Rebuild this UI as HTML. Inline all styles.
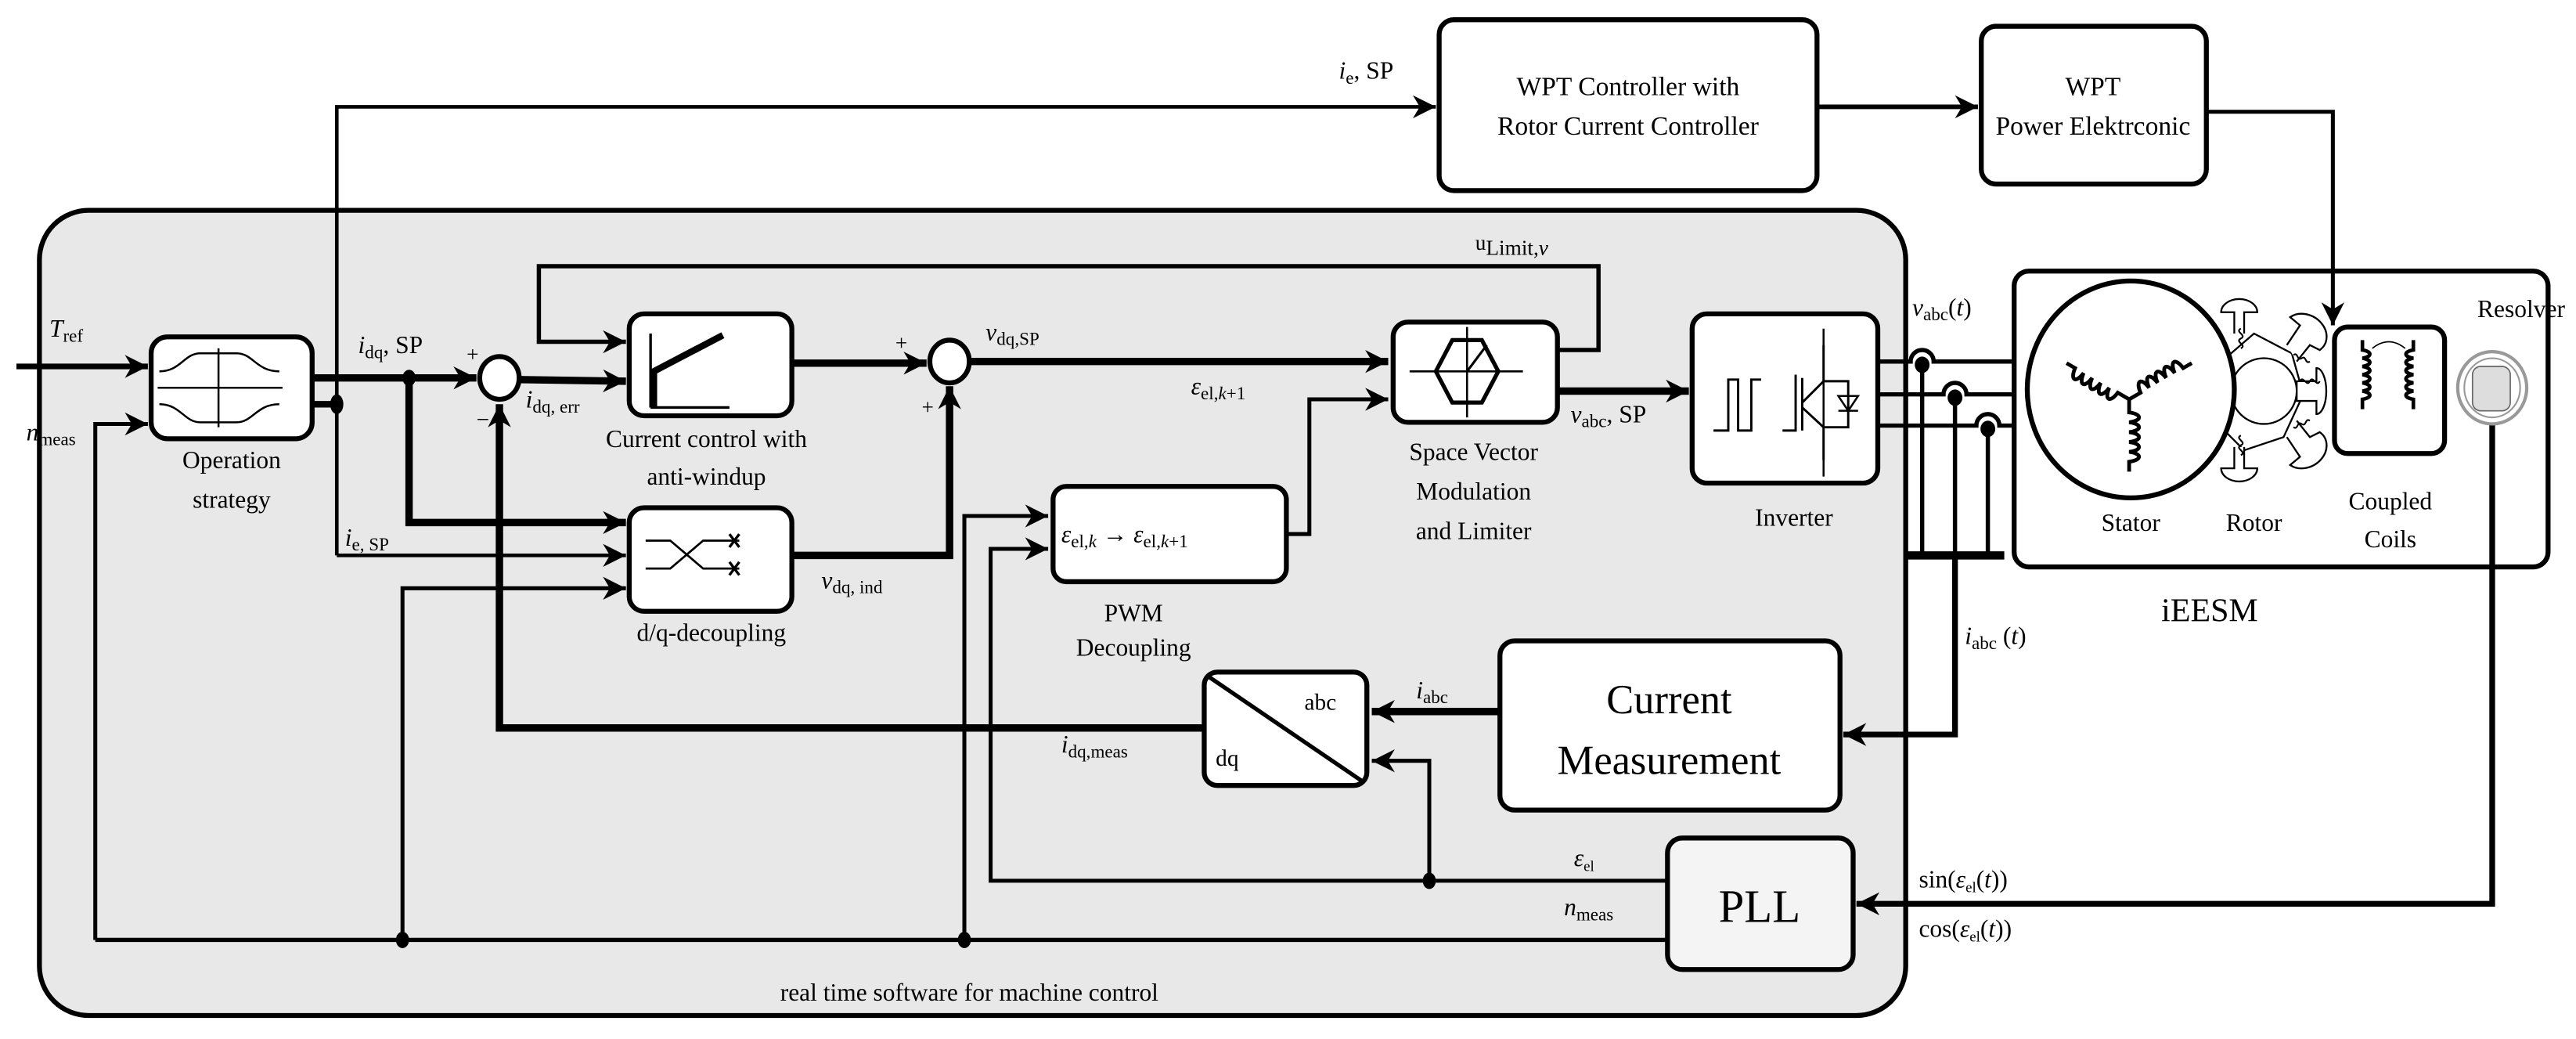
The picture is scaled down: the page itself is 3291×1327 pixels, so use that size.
<!DOCTYPE html>
<html><head><meta charset="utf-8"><style>
html,body{margin:0;padding:0;background:#fff;}
svg{display:block;}
text{font-family:"Liberation Serif","DejaVu Serif","Noto Serif CJK SC",serif;fill:#000;}
</style></head><body>
<svg width="3291" height="1327" viewBox="0 0 1568 632.3" preserveAspectRatio="none" xmlns="http://www.w3.org/2000/svg" font-family="Liberation Serif, DejaVu Serif, serif">
<defs>
<marker id="a" viewBox="0 0 10 10" refX="10" refY="5" markerWidth="16" markerHeight="14" markerUnits="userSpaceOnUse" orient="auto"><path d="M0,0 L10,5 L0,10 L3,5 Z" fill="#000"/></marker>
<path id="coil" d="M0,0 v8 c8,1 8,5 0,6 c8,1 8,5 0,6 c8,1 8,5 0,6 c8,1 8,5 0,6 c8,1 8,5 0,6 v6" fill="none" stroke="#000" stroke-width="2.3"/>
<path id="coil2" d="M0,0 v6 c6,1 6,4 0,5 c6,1 6,4 0,5 c6,1 6,4 0,5 c6,1 6,4 0,5 c6,1 6,4 0,5 c6,1 6,4 0,5 v6" fill="none" stroke="#000" stroke-width="2.2"/>
</defs>
<rect x="0" y="0" width="1568" height="633" fill="#fff"/>
<!-- big gray box -->
<rect x="24" y="128" width="1136" height="490" rx="30" fill="#e8e8e8" stroke="#000" stroke-width="3"/>

<g fill="none" stroke="#000" stroke-linejoin="miter">
<polyline points="205,338 205,65 874,65" stroke-width="2.2" marker-end="url(#a)"/>
<line x1="205" y1="338" x2="381" y2="338" stroke-width="2.2" marker-end="url(#a)"/>
<line x1="1106" y1="65" x2="1204" y2="65" stroke-width="2.8" marker-end="url(#a)"/>
<line x1="10" y1="223" x2="90" y2="223" stroke-width="3.5" marker-end="url(#a)"/>
<polyline points="58,572 58,258 90,258" stroke-width="2.4" marker-end="url(#a)"/>
<line x1="190" y1="230" x2="290" y2="230" stroke-width="4.5" marker-end="url(#a)"/>
<line x1="190" y1="246" x2="205" y2="246" stroke-width="4"/>
<polyline points="249,230 249,318 381,318" stroke-width="4.5" marker-end="url(#a)"/>
<line x1="316" y1="231" x2="381" y2="232" stroke-width="4.5" marker-end="url(#a)"/>
<polyline points="947,213 973,213 973,162 328,162 328,208 381,208" stroke-width="2.6" marker-end="url(#a)"/>
<line x1="482" y1="221" x2="564" y2="221" stroke-width="4.5" marker-end="url(#a)"/>
<line x1="591" y1="220" x2="845" y2="220" stroke-width="4.5" marker-end="url(#a)"/>
<polyline points="482,338 578,338 578,235" stroke-width="4.5" marker-end="url(#a)"/>
<polyline points="245,572 245,358 381,358" stroke-width="2.4" marker-end="url(#a)"/>
<line x1="58" y1="572" x2="1015" y2="572" stroke-width="2.6"/>
<polyline points="587,572 587,314 638,314" stroke-width="2.4" marker-end="url(#a)"/>
<polyline points="1015,536 603,536 603,334 638,334" stroke-width="2.4" marker-end="url(#a)"/>
<polyline points="870,536 870,463 835,463" stroke-width="2.4" marker-end="url(#a)"/>
<polyline points="783,325 797,325 797,243 845,243" stroke-width="2.4" marker-end="url(#a)"/>
<line x1="948" y1="238" x2="1028" y2="238" stroke-width="4.5" marker-end="url(#a)"/>
<polyline points="733,443 304,443 304,246" stroke-width="4.5" marker-end="url(#a)"/>
<line x1="913" y1="433" x2="835" y2="433" stroke-width="4.5" marker-end="url(#a)"/>
<path d="M1143,220 H1163 A7,7 0 0 1 1177,220 H1234" stroke-width="2.6"/>
<path d="M1143,240 H1183 A7,7 0 0 1 1197,240 H1234" stroke-width="2.6"/>
<path d="M1143,259 H1203 A7,7 0 0 1 1217,259 H1236" stroke-width="2.6"/>
<line x1="1170" y1="222" x2="1170" y2="338" stroke-width="2.6"/>
<line x1="1190" y1="242" x2="1190" y2="338" stroke-width="2.6"/>
<line x1="1210" y1="261" x2="1210" y2="338" stroke-width="2.6"/>
<line x1="1160" y1="338" x2="1220" y2="338" stroke-width="5"/>
<polyline points="1190,338 1190,447 1122,447" stroke-width="3.5" marker-end="url(#a)"/>
</g>
<g fill="#000">
<ellipse cx="249" cy="230" rx="4" ry="5"/>
<ellipse cx="205" cy="246" rx="4" ry="6"/>
<ellipse cx="245" cy="572" rx="4" ry="5"/>
<ellipse cx="587" cy="572" rx="4" ry="5"/>
<ellipse cx="870" cy="536" rx="4" ry="5"/>
<ellipse cx="1170" cy="222" rx="4.5" ry="5"/>
<ellipse cx="1190" cy="242" rx="4.5" ry="5"/>
<ellipse cx="1210" cy="261" rx="4.5" ry="5"/>
</g>

<g stroke="#000" stroke-width="3" fill="#fff">
<rect x="876" y="12" width="230" height="104" rx="9"/>
<rect x="1206" y="16" width="137" height="96" rx="9"/>
<rect x="92" y="205" width="98" height="62" rx="10"/>
<rect x="383" y="191" width="99" height="62" rx="9"/>
<rect x="383" y="309" width="99" height="63" rx="9"/>
<rect x="641" y="296" width="142" height="58" rx="8"/>
<rect x="848" y="196" width="100" height="61" rx="9"/>
<rect x="1030" y="191" width="113" height="103" rx="9"/>
<rect x="913" y="390" width="207" height="103" rx="9"/>
<rect x="733" y="409" width="99" height="69" rx="8"/>
<rect x="1015" y="510" width="113" height="80" rx="9" fill="#f4f4f4"/>
<rect x="1226" y="165" width="325" height="180" rx="9"/>
</g>
<!-- resolver line & WPT arrow over iEESM box -->
<g fill="none" stroke="#000">
<polyline points="1517,258 1517,550 1130,550" stroke-width="3.5" marker-end="url(#a)"/>
<polyline points="1343,68 1420,68 1420,198" stroke-width="2.4" marker-end="url(#a)"/>
</g>
<g stroke="#000" stroke-width="3" fill="#fff">
<rect x="1421" y="199" width="67" height="77" rx="8"/>
<ellipse cx="304" cy="230" rx="12" ry="13"/>
<ellipse cx="578" cy="220" rx="12" ry="13"/>
</g>
<!-- rotor (behind stator) -->
<g fill="#fff" stroke="#000" stroke-width="1.1">
<path d="M1350,222 L1372,203 L1395,215 L1402,240 L1390,266 L1366,274 L1350,258 Z"/>
<circle cx="1378" cy="238" r="20"/>
<path d="M1360,203 V190 h-8 a11,8 0 0 1 22,0 h-8 V203"/>
<path d="M1360,272 V285 h-8 a11,8 0 0 0 22,0 h-8 V272"/>
<path d="M1392,210 l8,-12 l-6,-5 a12,10 30 0 1 18,20 l-6,-3 l-8,10"/>
<path d="M1392,266 l8,12 l-6,5 a12,10 -30 0 0 18,-20 l-6,3 l-8,-10"/>
<path d="M1398,232 h12 v-8 a6,14 0 0 1 0,28 v-8 h-12 Z"/>
</g>
<g fill="none" stroke="#000" stroke-width="1">
<path d="M1364,200 c-4,2 4,4 0,6 c-4,2 4,4 0,6 M1364,265 c-4,2 4,4 0,6 c-4,2 4,4 0,6 M1400,232 c2,-4 4,4 6,0 c2,-4 4,4 6,0 M1396,216 c3,-2 2,4 5,2 c3,-2 2,4 5,2 M1396,260 c3,2 2,-4 5,-2 c3,2 2,-4 5,-2"/>
</g>
<ellipse cx="1297" cy="237" rx="63" ry="66" fill="#fff" stroke="#000" stroke-width="3"/>
<!-- stator coils -->
<use href="#coil" transform="translate(1296,243)"/>
<use href="#coil" transform="translate(1296,243) rotate(120)"/>
<use href="#coil" transform="translate(1296,243) rotate(-120)"/>
<!-- coupled coils -->
<use href="#coil2" transform="translate(1438,207)"/>
<use href="#coil2" transform="translate(1469,207) scale(-1,1)"/>
<path d="M1444,212 q10,-8 20,0" fill="none" stroke="#000" stroke-width="0.8"/>
<g fill="none" stroke="#000" stroke-width="1.2">
<line x1="96" y1="236" x2="172" y2="236"/>
<line x1="133" y1="212" x2="133" y2="260"/>
<path d="M97,226 C110,226 112,215 122,215 H144 C154,215 156,226 170,226"/>
<path d="M97,246 C110,246 112,257 122,257 H144 C154,257 156,246 170,246"/>
<line x1="396" y1="248" x2="444" y2="248" stroke-width="1.6"/>
<line x1="396" y1="248" x2="396" y2="203" stroke-width="1.6"/>
<path d="M398,248 V226 L440,204" stroke-width="4"/>
<path d="M393,329 H408 L428,346 H450 M393,346 H408 L428,329 H450" stroke-width="1.3"/>
<path d="M444,325 l6,8 M450,325 l-6,8 M444,342 l6,8 M450,342 l-6,8" stroke-width="1.6"/>
<polygon points="884,207 902,207 912,226 902,245 884,245 874,226" stroke-width="2.5"/>
<line x1="858" y1="226" x2="927" y2="226"/>
<line x1="893" y1="199" x2="893" y2="254"/>
<line x1="893" y1="226" x2="905" y2="210" stroke-width="1.5"/>
<path d="M1043,262 H1052 V231 H1058 V262 H1066 V231 H1072" stroke-width="1.4"/>
<path d="M1085,262 H1093 V228 M1097,230 V262 M1097,245 L1110,232 V210 M1097,248 L1110,260 V280 M1110,232 H1125 V260 H1110" stroke-width="1.4"/>
<polygon points="1119,241 1131,241 1125,250" stroke-width="1.2"/>
<line x1="1119" y1="250" x2="1131" y2="250"/>
<line x1="1110" y1="200" x2="1110" y2="290"/>
<line x1="736" y1="412" x2="830" y2="476" stroke-width="2.5"/>
</g>
<!-- resolver -->
<ellipse cx="1517" cy="236" rx="21" ry="22" fill="#fff" stroke="#999" stroke-width="2"/>
<ellipse cx="1517" cy="236" rx="17" ry="18" fill="none" stroke="#999" stroke-width="1"/>
<rect x="1505" y="223" width="23" height="27" rx="5" fill="#ddd" stroke="#666" stroke-width="0.8"/>

<g font-size="15">
<text x="991" y="58" text-anchor="middle" font-size="16">WPT Controller with</text>
<text x="991" y="82" text-anchor="middle" font-size="16">Rotor Current Controller</text>
<text x="1274" y="58" text-anchor="middle" font-size="16">WPT</text>
<text x="1274" y="82" text-anchor="middle" font-size="16">Power Elektrconic</text>
<text x="815" y="48"><tspan font-style="italic">i</tspan><tspan font-size="11" dy="3">e</tspan><tspan dy="-3">, SP</tspan></text>
<text x="30" y="205"><tspan font-style="italic">T</tspan><tspan font-size="11" dy="3">ref</tspan></text>
<text x="16" y="268"><tspan font-style="italic">n</tspan><tspan font-size="11" dy="3">meas</tspan></text>
<text x="141" y="285" text-anchor="middle">Operation</text>
<text x="141" y="309" text-anchor="middle">strategy</text>
<text x="218" y="215"><tspan font-style="italic">i</tspan><tspan font-size="11" dy="3">dq</tspan><tspan dy="-3">, SP</tspan></text>
<text x="284" y="220" font-size="13">+</text>
<text x="290" y="260" font-size="14">−</text>
<text x="320" y="248"><tspan font-style="italic">i</tspan><tspan font-size="11" dy="3">dq, err</tspan></text>
<text x="430" y="272" text-anchor="middle">Current control with</text>
<text x="430" y="295" text-anchor="middle">anti-windup</text>
<text x="210" y="332"><tspan font-style="italic">i</tspan><tspan font-size="11" dy="3">e, SP</tspan></text>
<text x="433" y="390" text-anchor="middle">d/q-decoupling</text>
<text x="500" y="358"><tspan font-style="italic">v</tspan><tspan font-size="11" dy="3">dq, ind</tspan></text>
<text x="545" y="213" font-size="13">+</text>
<text x="561" y="252" font-size="13">+</text>
<text x="600" y="207"><tspan font-style="italic">v</tspan><tspan font-size="11" dy="3">dq,SP</tspan></text>
<text x="898" y="152"><tspan font-size="13">u</tspan><tspan font-size="13" dy="3">Limit,</tspan><tspan font-style="italic" font-size="13">v</tspan></text>
<text x="725" y="240"><tspan font-style="italic">ε</tspan><tspan font-size="11" dy="3">el,</tspan><tspan font-size="11" font-style="italic">k</tspan><tspan font-size="11">+1</tspan></text>
<text x="646" y="330"><tspan font-style="italic">ε</tspan><tspan font-size="11" dy="3">el,</tspan><tspan font-size="11" font-style="italic">k</tspan><tspan dy="-3"> → </tspan><tspan font-style="italic">ε</tspan><tspan font-size="11" dy="3">el,</tspan><tspan font-size="11" font-style="italic">k</tspan><tspan font-size="11">+1</tspan></text>
<text x="690" y="378" text-anchor="middle">PWM</text>
<text x="690" y="399" text-anchor="middle">Decoupling</text>
<text x="897" y="280" text-anchor="middle">Space Vector</text>
<text x="897" y="304" text-anchor="middle">Modulation</text>
<text x="897" y="328" text-anchor="middle">and Limiter</text>
<text x="956" y="257"><tspan font-style="italic">v</tspan><tspan font-size="11" dy="3">abc</tspan><tspan dy="-3">, SP</tspan></text>
<text x="1092" y="320" text-anchor="middle">Inverter</text>
<text x="1164" y="192"><tspan font-style="italic">v</tspan><tspan font-size="11" dy="3">abc</tspan><tspan dy="-3">(</tspan><tspan font-style="italic">t</tspan>)</text>
<text x="1297" y="323" text-anchor="middle">Stator</text>
<text x="1372" y="323" text-anchor="middle">Rotor</text>
<text x="1455" y="310" text-anchor="middle">Coupled</text>
<text x="1455" y="333" text-anchor="middle">Coils</text>
<text x="1508" y="193">Resolver</text>
<text x="1345" y="378" text-anchor="middle" font-size="20">iEESM</text>
<text x="1196" y="392"><tspan font-style="italic">i</tspan><tspan font-size="11" dy="3">abc</tspan><tspan dy="-3"> (</tspan><tspan font-style="italic">t</tspan>)</text>
<text x="1016" y="434" text-anchor="middle" font-size="25">Current</text>
<text x="1016" y="471" text-anchor="middle" font-size="25">Measurement</text>
<text x="862" y="425"><tspan font-style="italic">i</tspan><tspan font-size="11" dy="3">abc</tspan></text>
<text x="794" y="432" font-size="14">abc</text>
<text x="740" y="466" font-size="14">dq</text>
<text x="646" y="458"><tspan font-style="italic">i</tspan><tspan font-size="11" dy="3">dq,meas</tspan></text>
<text x="1071" y="561" text-anchor="middle" font-size="28">PLL</text>
<text x="958" y="527"><tspan font-style="italic">ε</tspan><tspan font-size="9" dy="3">el</tspan></text>
<text x="952" y="557"><tspan font-style="italic">n</tspan><tspan font-size="11" dy="3">meas</tspan></text>
<text x="1168" y="540">sin(<tspan font-style="italic">ε</tspan><tspan font-size="9" dy="3">el</tspan><tspan dy="-3">(</tspan><tspan font-style="italic">t</tspan>))</text>
<text x="1168" y="570">cos(<tspan font-style="italic">ε</tspan><tspan font-size="9" dy="3">el</tspan><tspan dy="-3">(</tspan><tspan font-style="italic">t</tspan>))</text>
<text x="590" y="609" text-anchor="middle">real time software for machine control</text>
</g>
</svg>
</body></html>
